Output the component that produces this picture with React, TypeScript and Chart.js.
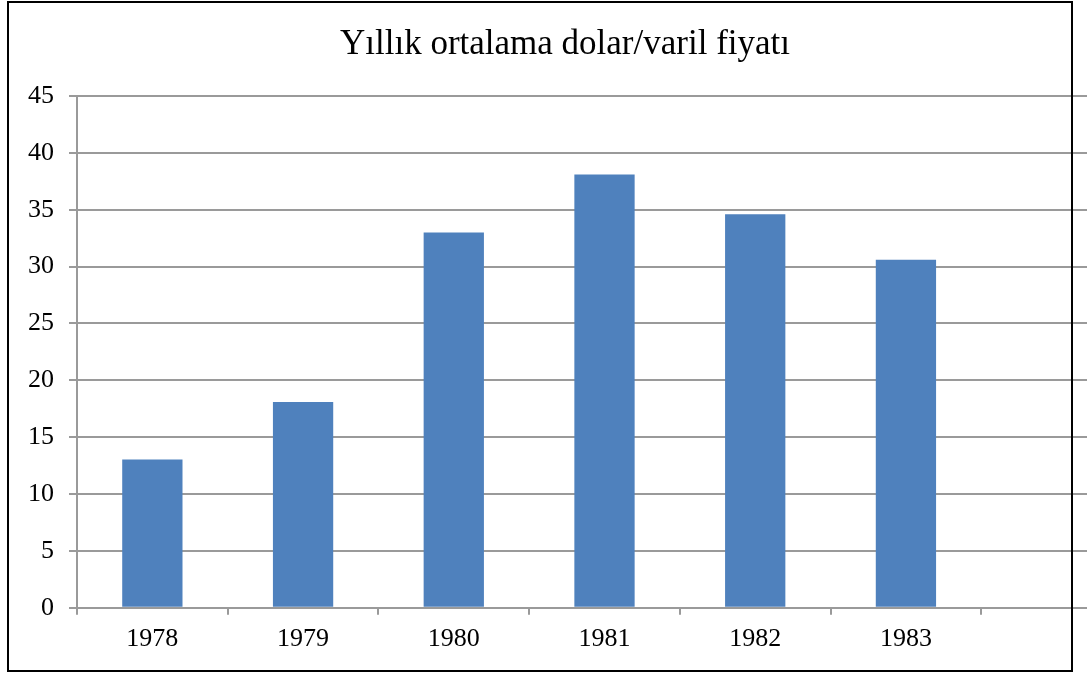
import React, { useEffect, useRef } from "react";
import { Chart, registerables } from "chart.js";

Chart.register(...registerables);

const TITLE = "Yıllık ortalama dolar/varil fiyatı";
const YEARS = ["1978", "1979", "1980", "1981", "1982", "1983", ""];
const PRICES = [13.05, 18.1, 33.0, 38.1, 34.6, 30.6, null];
const Y_MIN = 0;
const Y_MAX = 45;
const Y_STEP = 5;

const FONT = '"Liberation Serif", "Times New Roman", serif';
const GRID = "#9a9a9a";

const titlePlugin = {
  id: "customTitle",
  afterDraw(chart: any) {
    const ctx = chart.ctx;
    ctx.save();
    ctx.font = `35px ${FONT}`;
    ctx.fillStyle = "#000";
    ctx.textAlign = "center";
    ctx.textBaseline = "alphabetic";
    ctx.fillText(TITLE, 565, 54);
    ctx.restore();
  },
};

export default function App() {
  const ref = useRef<HTMLCanvasElement | null>(null);
  useEffect(() => {
    if (!ref.current) return;
    const chart = new Chart(ref.current, {
      type: "bar",
      data: {
        labels: YEARS,
        datasets: [
          {
            data: PRICES as any,
            backgroundColor: "#4F81BD",
            borderWidth: 0,
            barPercentage: 0.4,
            categoryPercentage: 1,
          },
        ],
      },
      options: {
        responsive: false,
        animation: false,
        layout: { padding: { left: 13, top: 96, right: 0, bottom: 13 } },
        plugins: {
          legend: { display: false },
          title: { display: false },
          tooltip: { enabled: false },
        },
        scales: {
          x: {
            offset: true,
            grid: {
              offset: true,
              drawOnChartArea: false,
              drawTicks: true,
              tickLength: 7,
              color: GRID,
              lineWidth: 2,
            },
            border: { display: true, color: GRID, width: 2 },
            ticks: { color: "#000", font: { family: FONT, size: 26 }, padding: 9, maxRotation: 0, autoSkip: false },
          },
          y: {
            min: Y_MIN,
            max: Y_MAX,
            ticks: { stepSize: Y_STEP, color: "#000", font: { family: FONT, size: 26 }, padding: 15 },
            grid: { color: GRID, lineWidth: 2, tickLength: 8, drawTicks: true },
            border: { display: true, color: GRID, width: 2 },
          },
        },
      },
      plugins: [titlePlugin],
    });
    return () => chart.destroy();
  }, []);

  return (
    <div style={{ position: "fixed", left: 0, top: 0, width: 1087, height: 677, overflow: "hidden", background: "#fff" }}>
      <canvas ref={ref} width={1132} height={677} style={{ position: "absolute", left: 0, top: 0, width: 1132, height: 677 }} />
      <div
        style={{
          position: "absolute",
          left: 7,
          top: 1,
          width: 1066,
          height: 671,
          border: "2px solid #000",
          boxSizing: "border-box",
          pointerEvents: "none",
        }}
      />
    </div>
  );
}
